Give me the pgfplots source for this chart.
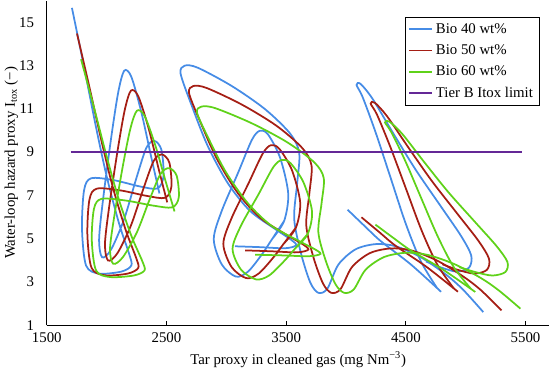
\documentclass[border=0pt]{standalone}
\usepackage{pgfplots}
\pgfplotsset{compat=1.18}
\usepackage{fontspec}
\setmainfont{Liberation Serif}
\definecolor{cb}{RGB}{70,140,230}
\definecolor{cr}{RGB}{165,30,20}
\definecolor{cg}{RGB}{95,210,25}
\definecolor{cp}{RGB}{100,40,150}
\begin{document}
\begin{tikzpicture}
\begin{axis}[
 scale only axis, width=373pt, height=241pt,
 xmin=1500, xmax=5700, ymin=1, ymax=16,
 axis x line=bottom, axis y line=left,
 axis line style={-, line width=0.8pt},
 xtick={1500,2500,3500,4500,5500}, ytick={1,3,5,7,9,11,13,15},
 tick align=inside, major tick length=3pt,
 tick style={black, line width=0.6pt},
 ytick style={draw=none},
 /pgf/number format/1000 sep={},
 /pgf/number format/assume math mode=true,
 tick label style={font=\fontsize{11}{13}\selectfont},
 xticklabel style={yshift=-2pt},
 yticklabel style={xshift=-6pt},
 ylabel shift=-6pt,
 label style={font=\fontsize{11}{13}\selectfont},
 xlabel={Tar proxy in cleaned gas (mg Nm\textsuperscript{−3})},
 ylabel={Water-loop hazard proxy I\textsubscript{tox} (−)},
 legend style={at={(0.98,0.95)}, anchor=north east, draw=black, line width=0.6pt,
   font=\fontsize{11}{13}\selectfont, row sep=3pt, inner sep=2.5pt},
 legend cell align=left,
 every axis plot/.append style={line width=1.3pt, smooth, tension=0.5},
]
\addlegendimage{cb, line width=1.3pt}\addlegendentry{Bio 40 wt\%}
\addlegendimage{cr, line width=1.3pt}\addlegendentry{Bio 50 wt\%}
\addlegendimage{cg, line width=1.3pt}\addlegendentry{Bio 60 wt\%}
\addlegendimage{cp, line width=1.3pt}\addlegendentry{Tier B Itox limit}

% ---------- Bio 40 wt% ----------
\addplot[cb, forget plot] coordinates {(1710,15.66) (1811,12.94) (1912,10.13) (2004,7.79) (2105,5.68) (2189,4.28) (2206,3.76) (2122,3.48) (1937,3.39) (1828,3.76) (1794,5.45) (1811,7.23) (1870,7.79) (2063,7.70) (2273,7.42) (2424,7.32) (2475,7.89) (2458,9.10) (2399,9.52) (2332,9.20) (2248,7.79) (2147,5.92) (2038,4.51) (1962,4.14) (1937,4.98) (1971,6.86) (2038,9.67) (2097,11.77) (2147,12.76) (2206,12.48) (2290,10.84) (2374,8.73) (2441,7.09)};
\addplot[cb, forget plot] coordinates {(3382,4.98) (3483,5.82) (3517,7.09) (3450,8.73) (3349,9.81) (3281,9.99) (3214,9.57) (3097,8.03) (2962,6.29) (2895,4.98) (2962,3.81) (3080,3.25) (3181,3.48) (3298,4.28) (3382,4.98) (3483,5.82)};
\addplot[cb, forget plot] coordinates {(3071,4.65) (3281,4.61) (3492,4.56) (3584,4.70) (3534,4.98) (3407,5.45) (3197,6.29) (3013,7.56) (2844,9.29) (2710,11.16) (2618,12.62) (2651,12.99) (2760,12.90) (3046,12.05) (3324,10.98) (3534,9.85) (3609,8.96) (3592,7.56) (3567,5.92) (3626,4.28) (3702,2.97) (3769,2.50) (3844,2.69) (3937,3.81) (4080,4.51) (4248,4.75) (4416,4.65) (4626,4.14) (4836,3.34) (4979,2.64) (5147,1.61)};
\addplot[cb, forget plot] coordinates {(4013,6.34) (4164,5.54) (4290,4.89) (4542,3.81) (4794,2.55)};
\addplot[cb, forget plot] coordinates {(4760,2.73) (4626,3.95) (4500,5.68) (4374,7.79) (4248,9.90) (4139,11.54) (4088,12.10) (4122,12.15) (4223,11.45) (4391,9.90) (4584,8.17) (4794,6.48) (4962,5.12) (5046,4.23) (5029,3.67) (4928,3.48) (4794,3.67) (4668,3.95)};

% ---------- Bio 50 wt% ----------
\addplot[cr, forget plot] coordinates {(1752,14.48) (1856,12.00) (1960,9.44) (2055,7.31) (2160,5.39) (2246,4.12) (2264,3.65) (2177,3.39) (1986,3.31) (1874,3.65) (1839,5.18) (1856,6.80) (1917,7.31) (2116,7.23) (2333,6.98) (2489,6.89) (2541,7.41) (2524,8.51) (2463,8.89) (2394,8.60) (2307,7.31) (2203,5.61) (2090,4.33) (2012,3.99) (1986,4.76) (2021,6.47) (2090,9.02) (2151,10.94) (2203,11.84) (2264,11.58) (2351,10.09) (2437,8.17) (2506,6.68)};
\addplot[cr, forget plot] coordinates {(3478,4.76) (3582,5.52) (3617,6.68) (3548,8.17) (3443,9.15) (3373,9.32) (3304,8.93) (3183,7.53) (3044,5.95) (2975,4.76) (3044,3.69) (3166,3.18) (3270,3.39) (3391,4.12) (3478,4.76) (3582,5.52)};
\addplot[cr, forget plot] coordinates {(3157,4.46) (3373,4.42) (3591,4.37) (3686,4.50) (3634,4.76) (3503,5.18) (3287,5.95) (3097,7.10) (2922,8.68) (2784,10.38) (2689,11.71) (2723,12.05) (2836,11.96) (3131,11.19) (3418,10.22) (3634,9.19) (3712,8.38) (3694,7.10) (3668,5.61) (3729,4.12) (3808,2.93) (3877,2.50) (3954,2.67) (4050,3.69) (4198,4.33) (4371,4.55) (4545,4.46) (4761,3.99) (4978,3.26) (5126,2.63) (5299,1.69)};
\addplot[cr, forget plot] coordinates {(4129,5.99) (4285,5.27) (4415,4.67) (4675,3.69) (4935,2.55)};
\addplot[cr, forget plot] coordinates {(4900,2.71) (4761,3.82) (4631,5.39) (4501,7.31) (4371,9.23) (4259,10.73) (4206,11.24) (4241,11.28) (4345,10.64) (4519,9.23) (4718,7.66) (4935,6.12) (5108,4.89) (5195,4.07) (5177,3.56) (5073,3.39) (4935,3.56) (4805,3.82)};

% ---------- Bio 60 wt% ----------
\addplot[cg, forget plot] coordinates {(1786,13.29) (1894,11.06) (2002,8.76) (2100,6.84) (2208,5.11) (2298,3.96) (2316,3.53) (2226,3.30) (2028,3.23) (1912,3.53) (1876,4.92) (1894,6.38) (1957,6.84) (2163,6.76) (2387,6.53) (2549,6.45) (2603,6.92) (2585,7.91) (2522,8.26) (2450,7.99) (2361,6.84) (2253,5.30) (2136,4.15) (2055,3.84) (2028,4.53) (2065,6.08) (2136,8.38) (2199,10.10) (2253,10.91) (2316,10.68) (2405,9.34) (2495,7.61) (2567,6.26)};
\addplot[cg, forget plot] coordinates {(3572,4.53) (3680,5.22) (3716,6.26) (3644,7.61) (3536,8.49) (3464,8.64) (3392,8.30) (3267,7.03) (3123,5.61) (3052,4.53) (3123,3.57) (3249,3.12) (3357,3.30) (3482,3.96) (3572,4.53) (3680,5.22)};
\addplot[cg, forget plot] coordinates {(3240,4.26) (3464,4.23) (3689,4.19) (3787,4.30) (3734,4.53) (3598,4.92) (3374,5.61) (3178,6.65) (2997,8.07) (2854,9.60) (2756,10.80) (2791,11.10) (2907,11.03) (3213,10.33) (3510,9.45) (3734,8.53) (3814,7.80) (3796,6.65) (3769,5.30) (3832,3.96) (3913,2.89) (3985,2.50) (4065,2.66) (4164,3.57) (4317,4.15) (4497,4.35) (4676,4.26) (4900,3.84) (5125,3.19) (5277,2.61) (5457,1.77)};
\addplot[cg, forget plot] coordinates {(4246,5.65) (4407,4.99) (4541,4.46) (4811,3.57) (5080,2.54)};
\addplot[cg, forget plot] coordinates {(5043,2.69) (4900,3.69) (4766,5.11) (4631,6.84) (4497,8.57) (4380,9.91) (4326,10.37) (4362,10.41) (4470,9.84) (4649,8.57) (4855,7.15) (5080,5.76) (5259,4.65) (5349,3.92) (5331,3.46) (5223,3.30) (5080,3.46) (4945,3.69)};

% ---------- Tier B limit ----------
\addplot[cp, forget plot, sharp plot] coordinates {(1700,9) (5470,9)};
\end{axis}
\end{tikzpicture}
\end{document}
